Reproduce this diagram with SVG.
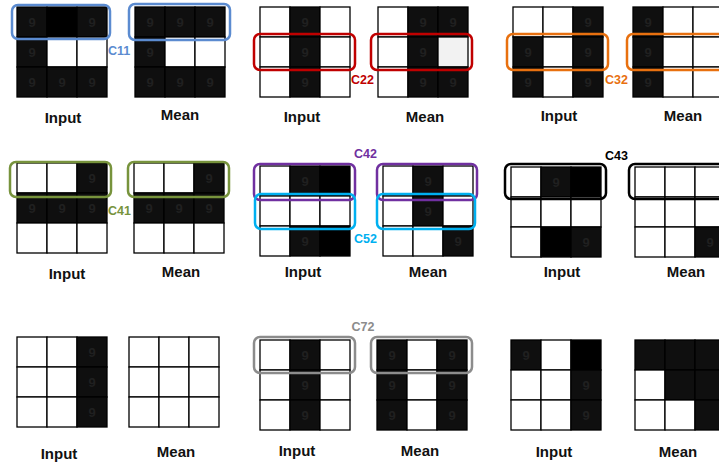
<svg xmlns="http://www.w3.org/2000/svg" width="719" height="466" viewBox="0 0 719 466">
<style>
.w{fill:#fff;stroke:#000;stroke-width:1.3}
.b{fill:#0f0f0f;stroke:#000;stroke-width:1.3}
.k{fill:#000;stroke:#000;stroke-width:1.3}
.g{fill:#f2f2f2;stroke:#000;stroke-width:1.3}
.n{font-family:"Liberation Sans",Arial,sans-serif;font-size:13px;font-weight:bold;fill:#202020;text-anchor:middle}
.t{font-family:"Liberation Sans",Arial,sans-serif;font-size:15px;font-weight:bold;fill:#111;text-anchor:middle}
.l{font-family:"Liberation Sans",Arial,sans-serif;font-size:12.5px;font-weight:bold}
.box{fill:none;stroke-width:2.5}
</style>
<rect width="719" height="466" fill="#fff"/>

<!-- Row 1 -->
<g id="p1-input">
<rect class="b" x="17" y="7" width="30" height="30"/><rect class="k" x="47" y="7" width="30" height="30"/><rect class="b" x="77" y="7" width="30" height="30"/>
<rect class="b" x="17" y="37" width="30" height="30"/><rect class="w" x="47" y="37" width="30" height="30"/><rect class="w" x="77" y="37" width="30" height="30"/>
<rect class="b" x="17" y="67" width="30" height="30"/><rect class="b" x="47" y="67" width="30" height="30"/><rect class="b" x="77" y="67" width="30" height="30"/>
<text class="n" x="32" y="27">9</text><text class="n" x="92" y="27">9</text><text class="n" x="32" y="57">9</text>
<text class="n" x="32" y="87">9</text><text class="n" x="62" y="87">9</text><text class="n" x="92" y="87">9</text>
<text class="t" x="63" y="123">Input</text>
</g>
<g id="p1-mean">
<rect class="b" x="135" y="7" width="30" height="30"/><rect class="b" x="165" y="7" width="30" height="30"/><rect class="b" x="195" y="7" width="30" height="30"/>
<rect class="b" x="135" y="37" width="30" height="30"/><rect class="w" x="165" y="37" width="30" height="30"/><rect class="w" x="195" y="37" width="30" height="30"/>
<rect class="b" x="135" y="67" width="30" height="30"/><rect class="b" x="165" y="67" width="30" height="30"/><rect class="b" x="195" y="67" width="30" height="30"/>
<text class="n" x="150" y="27">9</text><text class="n" x="180" y="27">9</text><text class="n" x="210" y="27">9</text><text class="n" x="150" y="57">9</text>
<text class="n" x="150" y="87">9</text><text class="n" x="180" y="87">9</text><text class="n" x="210" y="87">9</text>
<text class="t" x="180" y="120">Mean</text>
</g>

<g id="p2-input">
<rect class="w" x="260" y="7" width="30" height="30"/><rect class="b" x="290" y="7" width="30" height="30"/><rect class="w" x="320" y="7" width="30" height="30"/>
<rect class="w" x="260" y="37" width="30" height="30"/><rect class="b" x="290" y="37" width="30" height="30"/><rect class="w" x="320" y="37" width="30" height="30"/>
<rect class="w" x="260" y="67" width="30" height="30"/><rect class="b" x="290" y="67" width="30" height="30"/><rect class="w" x="320" y="67" width="30" height="30"/>
<text class="n" x="305" y="27">9</text><text class="n" x="305" y="57">9</text><text class="n" x="305" y="87">9</text>
<text class="t" x="302" y="122">Input</text>
</g>
<g id="p2-mean">
<rect class="w" x="378" y="7" width="30" height="30"/><rect class="b" x="408" y="7" width="30" height="30"/><rect class="b" x="438" y="7" width="30" height="30"/>
<rect class="w" x="378" y="37" width="30" height="30"/><rect class="b" x="408" y="37" width="30" height="30"/><rect class="g" x="438" y="37" width="30" height="30"/>
<rect class="w" x="378" y="67" width="30" height="30"/><rect class="b" x="408" y="67" width="30" height="30"/><rect class="b" x="438" y="67" width="30" height="30"/>
<text class="n" x="423" y="27">9</text><text class="n" x="453" y="27">9</text><text class="n" x="423" y="57">9</text>
<text class="n" x="423" y="87">9</text><text class="n" x="453" y="87">9</text>
<text class="t" x="425" y="122">Mean</text>
</g>

<g id="p3-input">
<rect class="w" x="513" y="7" width="30" height="30"/><rect class="w" x="543" y="7" width="30" height="30"/><rect class="b" x="573" y="7" width="30" height="30"/>
<rect class="b" x="513" y="37" width="30" height="30"/><rect class="w" x="543" y="37" width="30" height="30"/><rect class="b" x="573" y="37" width="30" height="30"/>
<rect class="b" x="513" y="67" width="30" height="30"/><rect class="w" x="543" y="67" width="30" height="30"/><rect class="b" x="573" y="67" width="30" height="30"/>
<text class="n" x="588" y="27">9</text><text class="n" x="528" y="57">9</text><text class="n" x="588" y="57">9</text>
<text class="n" x="528" y="87">9</text><text class="n" x="588" y="87">9</text>
<text class="t" x="559" y="121">Input</text>
</g>
<g id="p3-mean">
<rect class="b" x="633" y="7" width="30" height="30"/><rect class="w" x="663" y="7" width="30" height="30"/><rect class="w" x="693" y="7" width="30" height="30"/>
<rect class="b" x="633" y="37" width="30" height="30"/><rect class="w" x="663" y="37" width="30" height="30"/><rect class="w" x="693" y="37" width="30" height="30"/>
<rect class="b" x="633" y="67" width="30" height="30"/><rect class="w" x="663" y="67" width="30" height="30"/><rect class="w" x="693" y="67" width="30" height="30"/>
<text class="n" x="648" y="27">9</text><text class="n" x="648" y="57">9</text><text class="n" x="648" y="87">9</text>
<text class="t" x="683" y="121">Mean</text>
</g>

<!-- Row 2 -->
<g id="p4-input">
<rect class="w" x="17" y="163" width="30" height="30"/><rect class="w" x="47" y="163" width="30" height="30"/><rect class="b" x="77" y="163" width="30" height="30"/>
<rect class="b" x="17" y="193" width="30" height="30"/><rect class="b" x="47" y="193" width="30" height="30"/><rect class="b" x="77" y="193" width="30" height="30"/>
<rect class="w" x="17" y="223" width="30" height="30"/><rect class="w" x="47" y="223" width="30" height="30"/><rect class="w" x="77" y="223" width="30" height="30"/>
<text class="n" x="92" y="183">9</text><text class="n" x="32" y="213">9</text><text class="n" x="62" y="213">9</text><text class="n" x="92" y="213">9</text>
<text class="t" x="67" y="279">Input</text>
</g>
<g id="p4-mean">
<rect class="w" x="134" y="163" width="30" height="30"/><rect class="w" x="164" y="163" width="30" height="30"/><rect class="b" x="194" y="163" width="30" height="30"/>
<rect class="b" x="134" y="193" width="30" height="30"/><rect class="b" x="164" y="193" width="30" height="30"/><rect class="b" x="194" y="193" width="30" height="30"/>
<rect class="w" x="134" y="223" width="30" height="30"/><rect class="w" x="164" y="223" width="30" height="30"/><rect class="w" x="194" y="223" width="30" height="30"/>
<text class="n" x="209" y="183">9</text><text class="n" x="149" y="213">9</text><text class="n" x="179" y="213">9</text><text class="n" x="209" y="213">9</text>
<text class="t" x="181" y="277">Mean</text>
</g>

<g id="p5-input">
<rect class="w" x="260" y="166" width="30" height="30"/><rect class="b" x="290" y="166" width="30" height="30"/><rect class="k" x="320" y="166" width="30" height="30"/>
<rect class="w" x="260" y="196" width="30" height="30"/><rect class="w" x="290" y="196" width="30" height="30"/><rect class="w" x="320" y="196" width="30" height="30"/>
<rect class="w" x="260" y="226" width="30" height="30"/><rect class="b" x="290" y="226" width="30" height="30"/><rect class="k" x="320" y="226" width="30" height="30"/>
<text class="n" x="305" y="186">9</text><text class="n" x="305" y="246">9</text>
<text class="t" x="303" y="277">Input</text>
</g>
<g id="p5-mean">
<rect class="w" x="383" y="166" width="30" height="30"/><rect class="b" x="413" y="166" width="30" height="30"/><rect class="w" x="443" y="166" width="30" height="30"/>
<rect class="w" x="383" y="196" width="30" height="30"/><rect class="b" x="413" y="196" width="30" height="30"/><rect class="w" x="443" y="196" width="30" height="30"/>
<rect class="w" x="383" y="226" width="30" height="30"/><rect class="w" x="413" y="226" width="30" height="30"/><rect class="b" x="443" y="226" width="30" height="30"/>
<text class="n" x="428" y="186">9</text><text class="n" x="428" y="216">9</text><text class="n" x="458" y="246">9</text>
<text class="t" x="428" y="277">Mean</text>
</g>

<g id="p6-input">
<rect class="w" x="511" y="167" width="30" height="30"/><rect class="b" x="541" y="167" width="30" height="30"/><rect class="k" x="571" y="167" width="30" height="30"/>
<rect class="w" x="511" y="197" width="30" height="30"/><rect class="w" x="541" y="197" width="30" height="30"/><rect class="w" x="571" y="197" width="30" height="30"/>
<rect class="w" x="511" y="227" width="30" height="30"/><rect class="k" x="541" y="227" width="30" height="30"/><rect class="b" x="571" y="227" width="30" height="30"/>
<text class="n" x="556" y="187">9</text><text class="n" x="586" y="247">9</text>
<text class="t" x="562" y="277">Input</text>
</g>
<g id="p6-mean">
<rect class="w" x="635" y="167" width="30" height="30"/><rect class="w" x="665" y="167" width="30" height="30"/><rect class="w" x="695" y="167" width="30" height="30"/>
<rect class="w" x="635" y="197" width="30" height="30"/><rect class="w" x="665" y="197" width="30" height="30"/><rect class="w" x="695" y="197" width="30" height="30"/>
<rect class="w" x="635" y="227" width="30" height="30"/><rect class="w" x="665" y="227" width="30" height="30"/><rect class="b" x="695" y="227" width="30" height="30"/>
<text class="n" x="710" y="247">9</text>
<text class="t" x="686" y="277">Mean</text>
</g>

<!-- Row 3 -->
<g id="p7-input">
<rect class="w" x="17" y="337" width="30" height="30"/><rect class="w" x="47" y="337" width="30" height="30"/><rect class="b" x="77" y="337" width="30" height="30"/>
<rect class="w" x="17" y="367" width="30" height="30"/><rect class="w" x="47" y="367" width="30" height="30"/><rect class="b" x="77" y="367" width="30" height="30"/>
<rect class="w" x="17" y="397" width="30" height="30"/><rect class="w" x="47" y="397" width="30" height="30"/><rect class="b" x="77" y="397" width="30" height="30"/>
<text class="n" x="92" y="357">9</text><text class="n" x="92" y="387">9</text><text class="n" x="92" y="417">9</text>
<text class="t" x="59" y="459">Input</text>
</g>
<g id="p7-mean">
<rect class="w" x="129" y="337" width="30" height="30"/><rect class="w" x="159" y="337" width="30" height="30"/><rect class="w" x="189" y="337" width="30" height="30"/>
<rect class="w" x="129" y="367" width="30" height="30"/><rect class="w" x="159" y="367" width="30" height="30"/><rect class="w" x="189" y="367" width="30" height="30"/>
<rect class="w" x="129" y="397" width="30" height="30"/><rect class="w" x="159" y="397" width="30" height="30"/><rect class="w" x="189" y="397" width="30" height="30"/>
<text class="t" x="176" y="457">Mean</text>
</g>

<g id="p8-input">
<rect class="w" x="260" y="340" width="30" height="30"/><rect class="b" x="290" y="340" width="30" height="30"/><rect class="w" x="320" y="340" width="30" height="30"/>
<rect class="w" x="260" y="370" width="30" height="30"/><rect class="b" x="290" y="370" width="30" height="30"/><rect class="w" x="320" y="370" width="30" height="30"/>
<rect class="w" x="260" y="400" width="30" height="30"/><rect class="b" x="290" y="400" width="30" height="30"/><rect class="w" x="320" y="400" width="30" height="30"/>
<text class="n" x="305" y="360">9</text><text class="n" x="305" y="390">9</text><text class="n" x="305" y="420">9</text>
<text class="t" x="297" y="456">Input</text>
</g>
<g id="p8-mean">
<rect class="b" x="377" y="340" width="30" height="30"/><rect class="w" x="407" y="340" width="30" height="30"/><rect class="b" x="437" y="340" width="30" height="30"/>
<rect class="b" x="377" y="370" width="30" height="30"/><rect class="w" x="407" y="370" width="30" height="30"/><rect class="b" x="437" y="370" width="30" height="30"/>
<rect class="b" x="377" y="400" width="30" height="30"/><rect class="w" x="407" y="400" width="30" height="30"/><rect class="b" x="437" y="400" width="30" height="30"/>
<text class="n" x="392" y="360">9</text><text class="n" x="452" y="360">9</text><text class="n" x="392" y="390">9</text>
<text class="n" x="452" y="390">9</text><text class="n" x="392" y="420">9</text><text class="n" x="452" y="420">9</text>
<text class="t" x="420" y="456">Mean</text>
</g>

<g id="p9-input">
<rect class="b" x="511" y="340" width="30" height="30"/><rect class="w" x="541" y="340" width="30" height="30"/><rect class="k" x="571" y="340" width="30" height="30"/>
<rect class="w" x="511" y="370" width="30" height="30"/><rect class="w" x="541" y="370" width="30" height="30"/><rect class="b" x="571" y="370" width="30" height="30"/>
<rect class="w" x="511" y="400" width="30" height="30"/><rect class="w" x="541" y="400" width="30" height="30"/><rect class="b" x="571" y="400" width="30" height="30"/>
<text class="n" x="526" y="360">9</text><text class="n" x="586" y="390">9</text><text class="n" x="586" y="420">9</text>
<text class="t" x="554" y="457">Input</text>
</g>
<g id="p9-mean">
<rect class="b" x="635" y="340" width="30" height="30"/><rect class="b" x="665" y="340" width="30" height="30"/><rect class="b" x="695" y="340" width="30" height="30"/>
<rect class="w" x="635" y="370" width="30" height="30"/><rect class="b" x="665" y="370" width="30" height="30"/><rect class="b" x="695" y="370" width="30" height="30"/>
<rect class="w" x="635" y="400" width="30" height="30"/><rect class="w" x="665" y="400" width="30" height="30"/><rect class="b" x="695" y="400" width="30" height="30"/>
<text class="t" x="678" y="457">Mean</text>
</g>

<!-- Highlight boxes and labels -->
<g id="c11">
<rect class="box" stroke="#5b8bd0" x="12" y="5" width="98" height="34" rx="6"/>
<rect class="box" stroke="#5b8bd0" x="129" y="4" width="101" height="36" rx="6"/>
<text class="l" fill="#5b8bd0" x="108" y="55">C11</text>
</g>
<g id="c22">
<rect class="box" stroke="#c00000" x="254" y="34" width="101" height="36" rx="6"/>
<rect class="box" stroke="#c00000" x="371" y="34" width="101" height="36" rx="6"/>
<text class="l" fill="#c00000" x="351" y="84">C22</text>
</g>
<g id="c32">
<rect class="box" stroke="#e8700f" x="507" y="34" width="101" height="36" rx="6"/>
<rect class="box" stroke="#e8700f" x="627" y="34" width="110" height="36" rx="6"/>
<text class="l" fill="#e8700f" x="605" y="84">C32</text>
</g>
<g id="c41">
<rect class="box" stroke="#77933c" x="10" y="162" width="101" height="35" rx="6"/>
<rect class="box" stroke="#77933c" x="128" y="162" width="101" height="35" rx="6"/>
<text class="l" fill="#77933c" x="108" y="215">C41</text>
</g>
<g id="c42">
<rect class="box" stroke="#7030a0" x="254" y="164" width="101" height="36" rx="6"/>
<rect class="box" stroke="#7030a0" x="377" y="164" width="100" height="36" rx="6"/>
<text class="l" fill="#7030a0" x="354" y="158">C42</text>
</g>
<g id="c52">
<rect class="box" stroke="#00b0f0" x="255" y="194" width="100" height="35" rx="6"/>
<rect class="box" stroke="#00b0f0" x="377" y="194" width="98" height="35" rx="6"/>
<text class="l" fill="#00b0f0" x="354" y="243">C52</text>
</g>
<g id="c43">
<rect class="box" stroke="#000" x="505" y="164" width="101" height="35" rx="6"/>
<rect class="box" stroke="#000" x="629" y="164" width="110" height="35" rx="6"/>
<text class="l" fill="#000" x="605" y="160">C43</text>
</g>
<g id="c72">
<rect class="box" stroke="#8c8c8c" x="254" y="337" width="101" height="36" rx="6"/>
<rect class="box" stroke="#8c8c8c" x="371" y="337" width="101" height="36" rx="6"/>
<text class="l" fill="#8c8c8c" x="363" y="331" text-anchor="middle">C72</text>
</g>
<g id="connectors"/>
</svg>
